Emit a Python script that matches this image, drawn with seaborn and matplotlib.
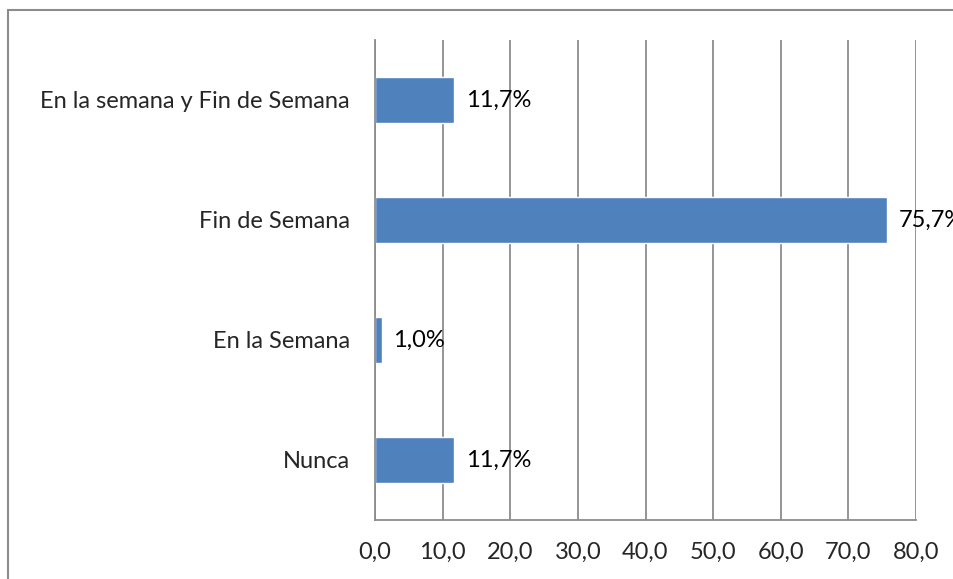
import matplotlib
matplotlib.use("Agg")
import matplotlib.pyplot as plt
import seaborn as sns
import pandas as pd
from matplotlib.patches import Rectangle

categories = ["En la semana y Fin de Semana", "Fin de Semana", "En la Semana", "Nunca"]
values = [11.7, 75.7, 1.0, 11.7]
xticks = [0, 10, 20, 30, 40, 50, 60, 70, 80]

df = pd.DataFrame({"categoria": categories, "pct": values})

sns.set_theme(style="white")
plt.rcParams["font.family"] = ["Lato", "DejaVu Sans"]
fs = 17

fig = plt.figure(figsize=(9.54, 5.79), dpi=100)
ax = fig.add_axes([375 / 954, 1 - 520 / 579, (916 - 375) / 954, 480 / 579])

sns.barplot(data=df, x="pct", y="categoria", color="#4F81BD", width=0.385,
            saturation=1, ax=ax)

ax.set_xlim(0, 80)
ax.set_xticks(xticks)
ax.set_xticklabels([f"{t:.1f}".replace(".", ",") for t in xticks], fontsize=fs)
ax.tick_params(axis="y", labelsize=fs, length=0, pad=18)
ax.tick_params(axis="x", length=0, pad=16)
ax.set_xlabel("")
ax.set_ylabel("")

ax.grid(axis="x", color="#8c8c8c", linewidth=1.3)
ax.set_axisbelow(True)
for s in ["top", "right"]:
    ax.spines[s].set_visible(False)
for s in ["left", "bottom"]:
    ax.spines[s].set_color("#8c8c8c")
    ax.spines[s].set_linewidth(1.3)

for i, v in enumerate(values):
    ax.text(v + 1.7, i, f"{v:.1f}".replace(".", ",") + "%", va="center",
            ha="left", fontsize=fs, color="black", clip_on=False)

# outer chart frame (extends past the right and bottom edges)
fig.patches.append(Rectangle((8 / 954, -0.1), 1.2, 1 - 10 / 579 + 0.1,
                             transform=fig.transFigure, fill=False,
                             edgecolor="#8c8c8c", linewidth=1.5))

fig.savefig("out.png", dpi=100)
